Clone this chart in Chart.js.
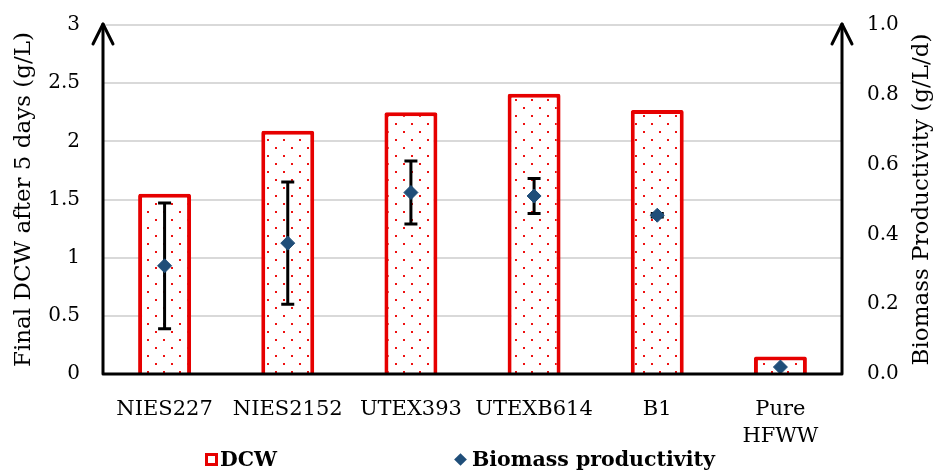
<!DOCTYPE html>
<html>
<head>
<meta charset="utf-8">
<script src="https://cdn.jsdelivr.net/npm/chart.js@4.4.1/dist/chart.umd.min.js"></script>
<style>
  html, body { margin: 0; padding: 0; background: #fff; }
  #wrap { position: relative; width: 937px; height: 476px; overflow: hidden; }
  canvas { display: block; }
  .leg-text { position: absolute; font-family: 'DejaVu Serif', serif; font-size: 20.5px; font-weight: bold; line-height: 21px; color: #000; white-space: nowrap; }
  #leg-box { position: absolute; left: 205px; top: 453px; width: 13px; height: 13px; box-sizing: border-box; border: 3px solid #e60000; background: #fff; }
  #leg-diamond { position: absolute; left: 456px; top: 455px; width: 9px; height: 9px; background: #1f4e79; transform: rotate(45deg); }
</style>
</head>
<body>
<div id="wrap">
  <canvas id="chart" width="937" height="476"></canvas>
  <div id="leg-box"></div>
  <div class="leg-text" style="left:220px; top:449px;">DCW</div>
  <div id="leg-diamond"></div>
  <div class="leg-text" style="left:472px; top:449px;">Biomass productivity</div>
</div>
<script>
// Strains tested
const categories = ['NIES227', 'NIES2152', 'UTEX393', 'UTEXB614', 'B1', ['Pure', 'HFWW']];
// Final dry cell weight after 5 days (g/L)
const dcw = [1.55, 2.09, 2.25, 2.41, 2.27, 0.15];
// Biomass productivity (g/L/d) and its standard deviation
const productivity = [0.31, 0.375, 0.52, 0.51, 0.455, 0.02];
const productivityErr = [0.18, 0.175, 0.09, 0.05, 0.005, 0];
// Axis ticks
const dcwTicks = [0, 0.5, 1, 1.5, 2, 2.5, 3];
const productivityTicks = [0, 0.2, 0.4, 0.6, 0.8, 1.0];
const rightTitle = 'Biomass Productivity (g/L/d)';

const RED = '#e60000';
const BLUE = '#1f4e79';
const FONT = "'DejaVu Serif', serif";

// Sparse red dot fill for the bars
function dotPattern() {
  const tile = document.createElement('canvas');
  tile.width = 16; tile.height = 16;
  const t = tile.getContext('2d');
  t.fillStyle = '#ffffff';
  t.fillRect(0, 0, 16, 16);
  t.fillStyle = '#ee1111';
  t.fillRect(3, 3, 2, 2);
  t.fillRect(11, 11, 2, 2);
  const ctx = document.getElementById('chart').getContext('2d');
  return ctx.createPattern(tile, 'repeat');
}

// Value axes keep the plot area flush with the layout padding
function noLabelOverhang(s) {
  s.paddingTop = 0;
  s.paddingBottom = 0;
}

// Error bars for the productivity series, drawn just after the bars
const errorBars = {
  id: 'errorBars',
  afterDatasetDraw(chart, args) {
    if (args.index !== 0) return;
    const ctx = chart.ctx;
    const y1 = chart.scales.y1;
    const x = chart.scales.x;
    ctx.save();
    ctx.strokeStyle = '#000';
    ctx.lineWidth = 3;
    ctx.lineCap = 'butt';
    productivity.forEach((v, i) => {
      const e = productivityErr[i];
      if (!e) return;
      const px = x.getPixelForValue(i);
      const top = y1.getPixelForValue(v + e);
      const bot = y1.getPixelForValue(v - e);
      ctx.beginPath();
      ctx.moveTo(px, top); ctx.lineTo(px, bot);
      ctx.moveTo(px - 6.5, top); ctx.lineTo(px + 6.5, top);
      ctx.moveTo(px - 6.5, bot); ctx.lineTo(px + 6.5, bot);
      ctx.stroke();
    });
    ctx.restore();
  }
};

// Black axis lines with open arrowheads on both value axes,
// plus the right-hand axis title reading bottom to top
const axisArrows = {
  id: 'axisArrows',
  afterDraw(chart) {
    const { ctx, chartArea: a } = chart;
    ctx.save();
    ctx.strokeStyle = '#000';
    ctx.lineWidth = 3;
    ctx.lineJoin = 'round';
    ctx.lineCap = 'round';
    const tipY = a.top - 1;
    ctx.beginPath();
    ctx.moveTo(a.left, tipY);
    ctx.lineTo(a.left, a.bottom);
    ctx.lineTo(a.right, a.bottom);
    ctx.lineTo(a.right, tipY);
    ctx.stroke();
    [a.left, a.right].forEach(px => {
      ctx.beginPath();
      ctx.moveTo(px - 10, tipY + 20);
      ctx.lineTo(px, tipY);
      ctx.lineTo(px + 10, tipY + 20);
      ctx.stroke();
    });

    const y1 = chart.scales.y1;
    ctx.translate(y1.right - 15, (a.top + a.bottom) / 2);
    ctx.rotate(-Math.PI / 2);
    ctx.fillStyle = '#000';
    ctx.font = '23px ' + FONT;
    ctx.textAlign = 'center';
    ctx.textBaseline = 'middle';
    ctx.fillText(rightTitle, 0, 0);
    ctx.restore();
  }
};

new Chart(document.getElementById('chart'), {
  data: {
    labels: categories,
    datasets: [
      {
        type: 'bar',
        label: 'DCW',
        data: dcw,
        yAxisID: 'y',
        backgroundColor: dotPattern(),
        borderColor: RED,
        borderWidth: 4,
        borderRadius: 2,
        borderSkipped: 'bottom',
        barPercentage: 0.43,
        categoryPercentage: 1,
        order: 2
      },
      {
        type: 'line',
        label: 'Biomass productivity',
        data: productivity,
        yAxisID: 'y1',
        showLine: false,
        pointStyle: 'rectRot',
        pointRadius: 7,
        pointBackgroundColor: BLUE,
        pointBorderColor: BLUE,
        pointBorderWidth: 1,
        order: 1
      }
    ]
  },
  options: {
    responsive: false,
    animation: false,
    devicePixelRatio: 1,
    layout: { padding: { top: 25, left: 0, right: 0, bottom: 0 } },
    plugins: {
      legend: { display: false },
      tooltip: { enabled: false }
    },
    scales: {
      x: {
        offset: true,
        grid: { display: false, drawTicks: false },
        border: { display: false },
        ticks: {
          color: '#000',
          font: { family: FONT, size: 21, lineHeight: 1.3 },
          padding: 22,
          maxRotation: 0,
          autoSkip: false
        },
        afterFit(s) { s.height = 102; }
      },
      y: {
        position: 'left',
        min: dcwTicks[0],
        max: dcwTicks[dcwTicks.length - 1],
        afterBuildTicks(s) { s.ticks = dcwTicks.map(v => ({ value: v })); },
        grid: { color: '#d9d9d9', lineWidth: 2, drawTicks: false },
        border: { display: false },
        ticks: {
          color: '#000',
          font: { family: FONT, size: 20 },
          padding: 23,
          callback: v => String(v)
        },
        title: {
          display: true,
          text: 'Final DCW after 5 days (g/L)',
          color: '#000',
          font: { family: FONT, size: 23 },
          padding: { top: 10, bottom: 0 }
        },
        afterFit(s) { s.width = 103; noLabelOverhang(s); }
      },
      y1: {
        position: 'right',
        min: productivityTicks[0],
        max: productivityTicks[productivityTicks.length - 1],
        afterBuildTicks(s) { s.ticks = productivityTicks.map(v => ({ value: v })); },
        grid: { display: false, drawTicks: false },
        border: { display: false },
        ticks: {
          color: '#000',
          font: { family: FONT, size: 20 },
          padding: 25,
          callback: v => Number(v).toFixed(1)
        },
        afterFit(s) { s.width = 95; noLabelOverhang(s); }
      }
    }
  },
  plugins: [errorBars, axisArrows]
});
</script>
</body>
</html>
